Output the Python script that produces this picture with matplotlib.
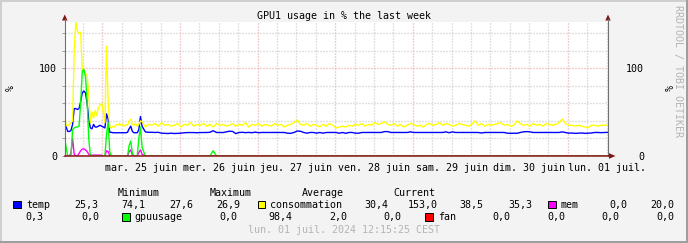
import numpy as np
import matplotlib
matplotlib.use('Agg')
import matplotlib.pyplot as plt
from matplotlib.patches import Rectangle, Polygon

plt.rcParams['font.family'] = 'DejaVu Sans Mono'
plt.rcParams['font.size'] = 7.2
plt.rcParams['lines.scale_dashes'] = False

# heures depuis lun. 24 juin 12:15:25
# premier jour : un point toutes les 30 min
temp_debut = [39, 33, 28, 28, 29, 36, 54, 54, 53, 54,
              62, 72, 74, 72, 60, 42, 32, 31, 36, 33,
              33, 34, 35, 34, 33, 32, 48, 42, 27, 27,
              26.5, 26.5, 26.5, 26.5, 26.5, 26.5, 26.5, 26.5, 26.5, 27,
              31, 34, 28, 26.5, 26.5, 26.5, 30, 45]
conso_debut = [50, 35, 34, 36, 38, 40, 120, 153, 142, 140,
               141, 97, 98, 94, 92, 70, 38, 50, 43, 52,
               46, 55, 58, 60, 50, 38, 125, 62, 33, 32,
               34, 33, 36, 35, 37, 35, 36, 34, 36, 35,
               40, 42, 36, 35, 37, 34, 36, 40]
mem_debut = [0, 0, 0, 0, 3, 20, 2, 0, 0, 3,
             6, 8, 8, 7, 5, 2, 1, 1, 1, 1,
             1, 1, 1, 1, 0, 0, 6, 5, 0, 0,
             0, 0, 0, 0, 0, 0, 0, 0, 0, 0,
             5, 7, 1, 0, 0, 0, 4, 7]
gpu_debut = [22, 10, 0, 0, 0, 30, 32, 33, 33, 34,
             60, 97, 98.4, 90, 62, 20, 0, 0, 0, 0,
             0, 0, 0, 0, 0, 0, 25, 38, 5, 0,
             0, 0, 0, 0, 0, 0, 0, 0, 0, 0,
             12, 17, 3, 0, 0, 0, 20, 33]
fan_debut = [0.0] * 48

# ensuite : un point par heure (24 h -> 168 h)
temp_suite = [34, 27.5, 27, 27, 26.8, 27,
              26, 25.8, 25.6, 26, 25.6, 25.8, 26, 26.5,
              26.7, 26.7, 26.7, 26.5, 26.7, 26.7, 26.8, 27,
              28.8, 26.8, 26.7, 26.7, 27.5, 28.2, 28, 25.5,
              26.8, 27, 26.6, 26.9, 26.5, 27.2, 26.5, 26.8,
              26.8, 26.7, 26.8, 26.8, 26.7, 26.8, 26.8, 26,
              25.8, 26.8, 28.5, 28.2, 26.8, 26, 26.8, 26.8,
              26, 26.8, 26, 26.8, 26.8, 26.8, 26.8, 26,
              26.8, 25.8, 26.8, 26.8, 26, 26, 26.8, 26.8,
              26.8, 26.8, 26.8, 26.8, 26.8, 27.8, 27.8, 26.8,
              26.8, 26.8, 26.8, 26.8, 26.8, 27.5, 26.8, 26.8,
              26.8, 26.8, 26.8, 26.8, 26.8, 26.8, 26.8, 26.8,
              27.5, 26.5, 27.5, 26.8, 26.8, 26.8, 26.8, 26.8,
              26.8, 26.8, 26.8, 26.2, 26.8, 26.8, 26.8, 26.8,
              26.8, 26.8, 26.8, 26, 25.8, 26, 25.8, 26.8,
              27.5, 27.8, 27.5, 26.8, 26.8, 26.8, 26.8, 26.8,
              26.8, 26.8, 26.8, 26.8, 27.5, 26.8, 26, 26.2,
              25.8, 26, 26.2, 25.8, 26, 26.2, 26.8, 26.8,
              26.6, 26.8, 26.9]
conso_suite = [39, 33,
               36, 35, 37, 34, 38, 35, 36, 34, 35, 37, 33, 36, 35, 38, 34, 36, 35, 37,
               34, 36, 33, 37, 35, 36, 34, 35, 37, 34, 36, 35, 38, 33, 36, 35, 37, 34,
               36, 35, 34, 37, 35, 36, 33, 35, 36, 38, 41, 36, 35, 37, 34, 36, 35, 33,
               36, 34, 37, 35, 32, 33, 34, 33, 35, 34, 36, 35, 37, 34, 36, 35, 38, 36,
               37, 39, 36, 35, 37, 34, 36, 33, 35, 37, 36, 34, 35, 33, 36, 37, 35, 36,
               38, 35, 37, 36, 34, 35, 37, 36, 35, 34, 36, 40, 35, 37, 34, 36, 35, 36,
               37, 38, 35, 36, 34, 35, 40, 37, 35, 36, 34, 37, 35, 36, 34, 37, 36, 35,
               36, 38, 42, 37, 35, 35, 34, 35, 34, 33, 32, 35, 35, 34, 35, 35, 35.3]
mem_suite = [2.0] + [0.0] * 144
gpu_suite = [10.0] + [0.0] * 21 + [6.0] + [0.0] * 122
fan_suite = [0.0] * 145

jours = ['mar. 25 juin', 'mer. 26 juin', 'jeu. 27 juin', 'ven. 28 juin',
         'sam. 29 juin', 'dim. 30 juin', 'lun. 01 juil.']
premier_minuit = 11 + 44 / 60 + 35 / 3600

noms = ['temp', 'consommation', 'mem', 'gpuusage', 'fan']
couleurs = ['#0000FF', '#FFFF00', '#FF00FF', '#00FF00', '#FF0000']
entetes = ['Minimum', 'Maximum', 'Average', 'Current']
stats = [['25,3', '74,1', '27,6', '26,9'],
         ['30,4', '153,0', '38,5', '35,3'],
         ['0,0', '20,0', '0,3', '0,0'],
         ['0,0', '98,4', '2,0', '0,0'],
         ['0,0', '0,0', '0,0', '0,0']]

t = np.concatenate([np.arange(48) * 0.5, np.arange(24, 169)])
series = [temp_debut + temp_suite, conso_debut + conso_suite, mem_debut + mem_suite,
          gpu_debut + gpu_suite, fan_debut + fan_suite]

W, H = 688, 243
fig = plt.figure(figsize=(W / 100, H / 100), dpi=100, facecolor='#F3F3F3')
x0, x1, y0, y1 = 64.5, 607.5, 21.7, 156
ax = fig.add_axes([x0 / W, (H - y1) / H, (x1 - x0) / W, (y1 - y0) / H])
ax.set_facecolor('white')
ax.set_xlim(0, 168)
ax.set_ylim(0, 153)
for s in ax.spines.values():
    s.set_visible(False)

# grille pointillee
dot = (0, (0.72, 1.44))
gris, rose = '#C4C4C4', '#EBA0A0'
for h in np.arange(premier_minuit - 12, 168, 6):
    if h <= 0:
        continue
    majeur = abs((h - premier_minuit) % 24) < 0.01
    ax.axvline(h, color=rose if majeur else gris, lw=1.0, ls=dot, zorder=1)
for v in [20, 40, 60, 80, 100, 120, 140]:
    ax.axhline(v, color=rose if v == 100 else gris, lw=1.0, ls=dot, zorder=1)

for y, c in zip(series, couleurs):
    ax.plot(t, y, color=c, lw=1.0, zorder=3)

ax.set_xticks(premier_minuit + 12 + 24 * np.arange(7), labels=jours)
ax.tick_params(axis='x', length=0, pad=5)
ax.set_yticks([0, 100], labels=['0', '100'])
ax.set_yticks([20, 40, 60, 80, 120, 140], minor=True)
ax.tick_params(axis='y', which='both', direction='out', length=2, width=0.7,
               color='#999999', left=True, right=True, pad=3.4)

ax2 = ax.twinx()
ax2.set_ylim(0, 153)
for s in ax2.spines.values():
    s.set_visible(False)
ax2.set_yticks([0, 100], labels=['0', '100'])
ax2.tick_params(axis='y', length=0, pad=26.3)
for lab in ax2.get_yticklabels():
    lab.set_horizontalalignment('right')

# calque en pixels pour cadre, fleches et legende
ov = fig.add_axes([0, 0, 1, 1])
ov.set_xlim(0, W)
ov.set_ylim(H, 0)
ov.axis('off')

ov.add_patch(Rectangle((0, 0), W, 2, color='#CFCFCF', lw=0))
ov.add_patch(Rectangle((0, 0), 2, H, color='#CFCFCF', lw=0))
ov.add_patch(Rectangle((W - 2, 0), 2, H, color='#9E9E9E', lw=0))
ov.add_patch(Rectangle((0, H - 2), W, 2, color='#9E9E9E', lw=0))

ov.plot([x0, x0], [y1, 19], color='#707070', lw=0.8)
ov.plot([x1, x1], [y1, 19], color='#707070', lw=0.8)
ov.plot([x0, 610], [y1, y1], color='#8B1A1A', lw=1.1)
rouge = '#7F1515'
ov.add_patch(Polygon([(62, 20.5), (67.5, 20.5), (64.75, 14.5)], color=rouge, lw=0))
ov.add_patch(Polygon([(605.3, 20.5), (610.7, 20.5), (608, 14.5)], color=rouge, lw=0))
ov.add_patch(Polygon([(609, 153.2), (609, 158.8), (615.5, 156)], color=rouge, lw=0))

ov.text(344, 19, 'GPU1 usage in % the last week', ha='center', va='baseline')
ov.text(10.7, 88, '%', rotation=90, ha='center', va='center')
ov.text(667, 88, '%', rotation=270, ha='center', va='center')
ov.text(677.5, 71, 'RRDTOOL / TOBI OETIKER', rotation=270, ha='center', va='center',
        color='#B4B4B4')
ov.text(344, 233.3, 'lun. 01 juil. 2024 12:15:25 CEST', ha='center', va='baseline',
        color='#B4B4B4')

# legende
for x, e in zip([118, 209.7, 301.7, 393.7], entetes):
    ov.text(x, 196, e, ha='left', va='baseline')

pos_carre = [(13.3, 200.7), (257.7, 200.7), (548.3, 200.7), (122.3, 213.3), (425.3, 213.3)]
pos_nom = [(26.3, 208), (269.9, 208), (560.6, 208), (134.6, 220.3), (437.9, 220.3)]
pos_val = [[(98.2, 208), (145.2, 208), (193.2, 208), (240.5, 208)],
           [(388.8, 208), (437.8, 208), (483.5, 208), (532.8, 208)],
           [(627.2, 208), (674.5, 208), (43.8, 220.3), (99.2, 220.3)],
           [(237.8, 220.3), (292.5, 220.3), (347.5, 220.3), (401.2, 220.3)],
           [(510.5, 220.3), (565.5, 220.3), (619.8, 220.3), (674.5, 220.3)]]
for i, nom in enumerate(noms):
    cx, cy = pos_carre[i]
    ov.add_patch(Rectangle((cx, cy), 7.3, 7.3, facecolor=couleurs[i], edgecolor='black', lw=0.7))
    ov.text(pos_nom[i][0], pos_nom[i][1], nom, ha='left', va='baseline')
    for (vx, vy), val in zip(pos_val[i], stats[i]):
        ov.text(vx, vy, val, ha='right', va='baseline')

fig.savefig('out.png', dpi=100, facecolor=fig.get_facecolor())
